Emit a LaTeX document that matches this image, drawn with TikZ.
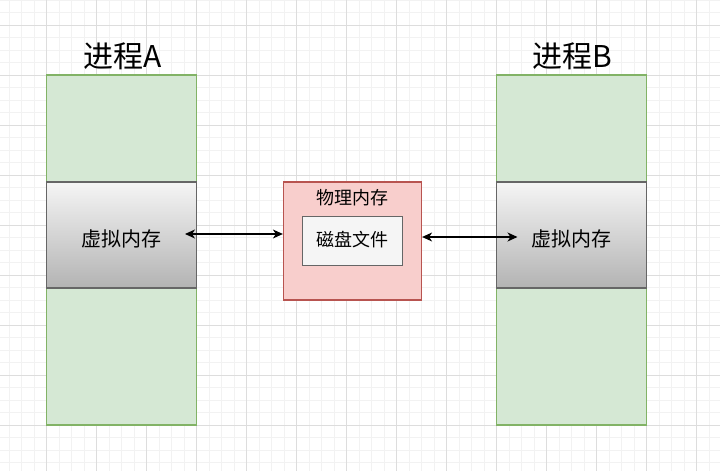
\documentclass[tikz,border=0pt]{standalone}
\usepackage{fontspec}
\setmainfont{Noto Sans CJK SC}
\usetikzlibrary{arrows.meta}
\definecolor{gfill}{HTML}{D5E8D4}
\definecolor{gline}{HTML}{82B366}
\definecolor{rfill}{HTML}{F8CECC}
\definecolor{rline}{HTML}{B85450}
\definecolor{boxfill}{HTML}{F5F5F5}
\definecolor{boxline}{HTML}{666666}
\definecolor{shadebot}{HTML}{B3B3B3}
\definecolor{minorgrid}{HTML}{F2F2F2}
\definecolor{majorgrid}{HTML}{DDDDDD}
\tikzset{
  proc/.style={draw=gline, fill=gfill, line width=1.2pt},
  vmem/.style={draw=boxline, top color=boxfill, bottom color=shadebot, line width=1.2pt},
  pmem/.style={draw=rline, fill=rfill, line width=1.2pt},
  file/.style={draw=boxline, fill=boxfill, line width=1.2pt},
  conn/.style={line width=1.2pt, {Stealth[length=10pt,width=9pt,inset=3pt]}-{Stealth[length=10pt,width=9pt,inset=3pt]}},
  title/.style={font=\fontsize{30}{32}\selectfont},
  lbl/.style={font=\fontsize{20}{22}\selectfont},
  slbl/.style={font=\fontsize{18}{20}\selectfont}
}
\begin{document}
\begin{tikzpicture}[x=1pt,y=-1pt]
\useasboundingbox (0,0) rectangle (720,471);
\fill[white] (0,0) rectangle (720,471);
% minor grid
\foreach \i in {0,...,58} {
  \draw[minorgrid, line width=0.8pt] ({-3.3+12.5*\i},0) -- ({-3.3+12.5*\i},471);
}
\foreach \j in {0,...,38} {
  \draw[minorgrid, line width=0.8pt] (0,{0+12.5*\j}) -- (720,{0+12.5*\j});
}
% major grid
\foreach \i in {0,...,15} {
  \draw[majorgrid, line width=0.8pt] ({-3.3+50*\i},0) -- ({-3.3+50*\i},471);
}
\foreach \j in {0,...,9} {
  \draw[majorgrid, line width=0.8pt] (0,{25+50*\j}) -- (720,{25+50*\j});
}
% process A
\draw[proc] (46.7,75) rectangle (196.7,425);
\path[vmem] (46.7,182) rectangle (196.7,288);
\node[lbl] (va) at (121.2,239) {虚拟内存};
\node[title] (ta) at (122.5,56) {进程A};
% process B
\draw[proc] (496.7,75) rectangle (646.7,425);
\path[vmem] (496.7,182) rectangle (646.7,288);
\node[lbl] (vb) at (571.2,239) {虚拟内存};
\node[title] (tb) at (572.5,56) {进程B};
% physical memory
\node[pmem, minimum width=138pt, minimum height=118pt, inner sep=0pt] (pm) at (352.5,241) {};
\node[slbl] (pml) at (352.5,198) {物理内存};
\node[file, minimum width=100pt, minimum height=49pt, inner sep=0pt] (df) at (352.8,241) {};
\node[slbl] (dfl) at (352.8,240) {磁盘文件};
% connectors
\coordinate (la) at (185,234);
\coordinate (rb) at (517.5,237);
\draw[conn] (la) -- (pm.west |- la);
\draw[conn] (pm.east |- rb) -- (rb);
\end{tikzpicture}
\end{document}
